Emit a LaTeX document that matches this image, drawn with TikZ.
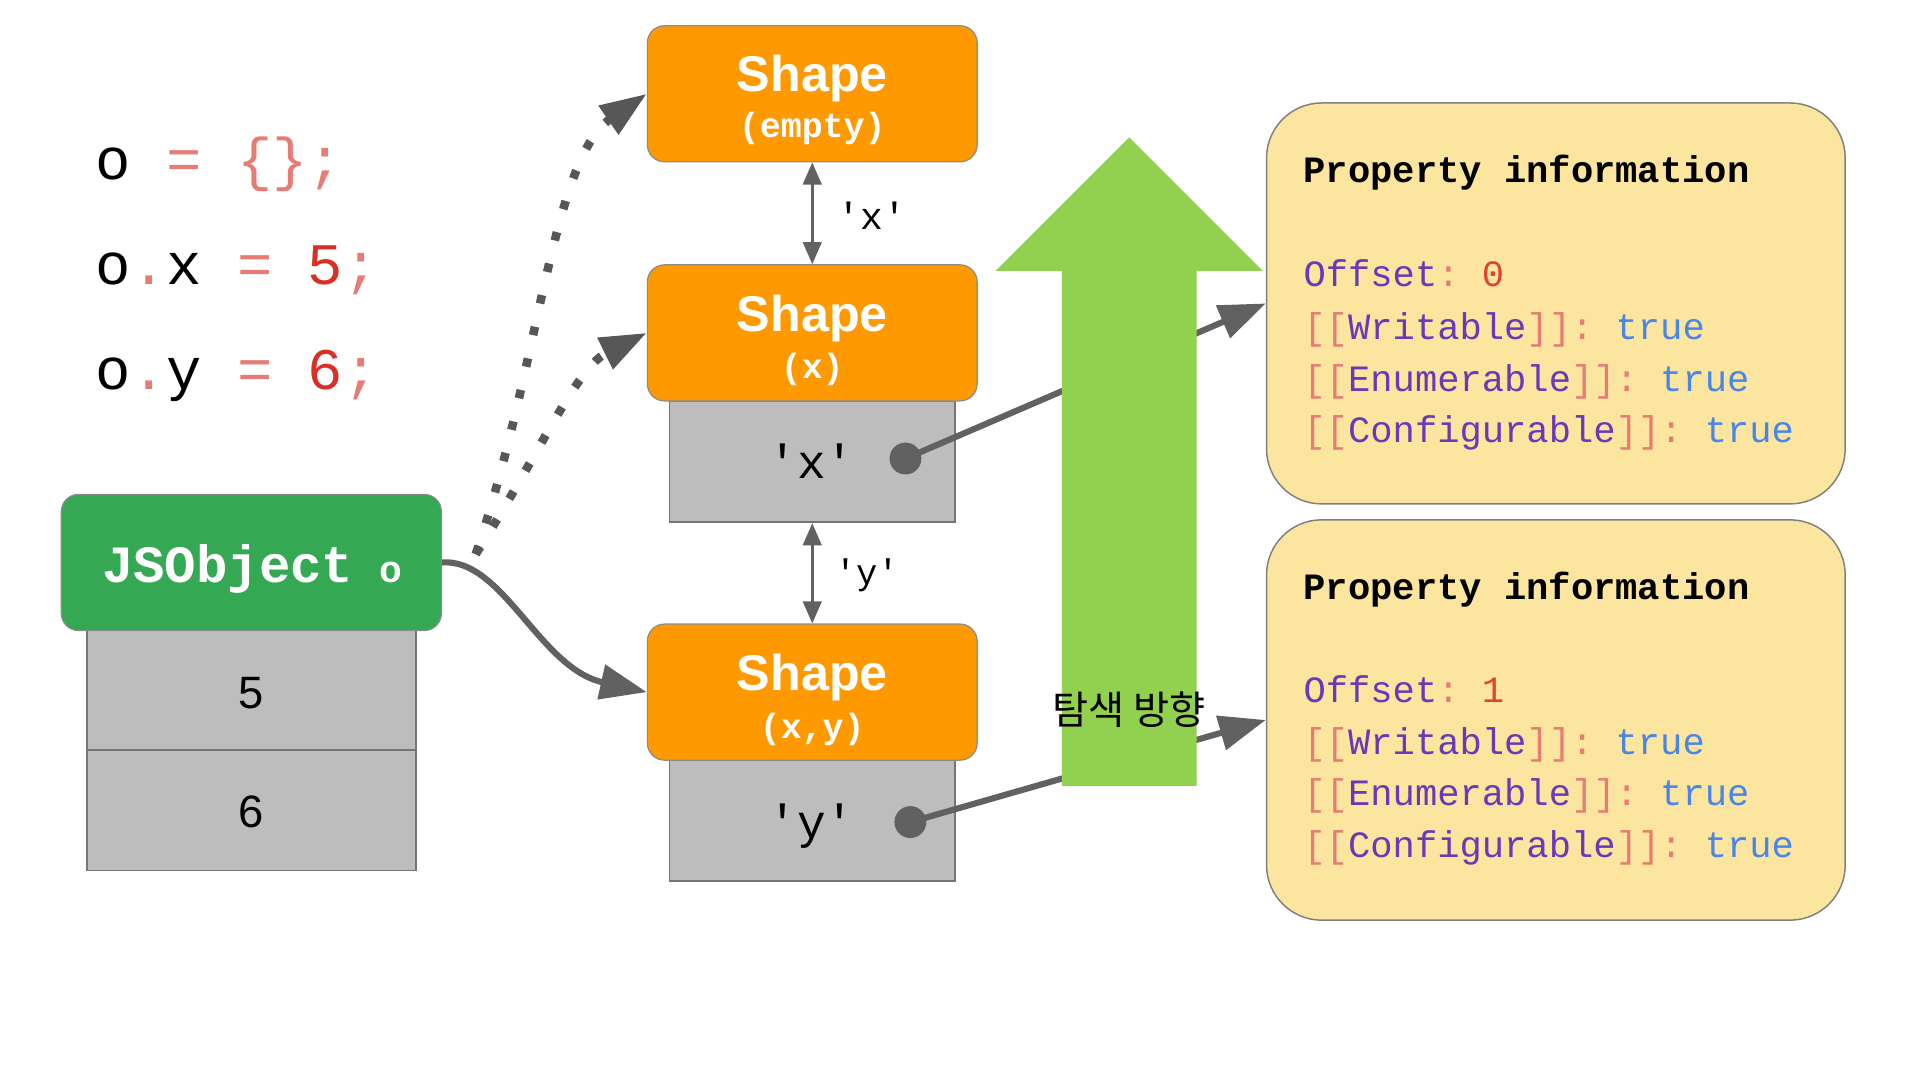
\documentclass[tikz,border=0pt]{standalone}
\usepackage{fontspec}
\setmainfont{Liberation Sans}
\setmonofont{Liberation Mono}
\newfontfamily\krfont{Noto Sans CJK KR}
\usetikzlibrary{arrows.meta}
\definecolor{shapeor}{HTML}{FF9900}
\definecolor{jsgreen}{HTML}{34A853}
\definecolor{boxgray}{HTML}{BDBDBD}
\definecolor{edgegray}{HTML}{757575}
\definecolor{pyellow}{HTML}{FCE59F}
\definecolor{arrgreen}{HTML}{92D050}
\definecolor{conngray}{HTML}{616161}
\definecolor{sal}{HTML}{E67C73}
\definecolor{pur}{HTML}{673AB7}
\definecolor{redv}{HTML}{DB4437}
\definecolor{blu}{HTML}{4A86E8}
\definecolor{codered}{HTML}{D93025}
\newcommand{\fsz}[1]{\fontsize{#1}{#1}\selectfont}
\tikzset{
  shapebox/.style={draw=black!45, line width=1pt, fill=shapeor, rounded corners=14pt,
    minimum width=269pt, minimum height=111pt, inner sep=0pt},
  jsbox/.style={draw=black!45, line width=1pt, fill=jsgreen, rounded corners=14pt,
    minimum width=310pt, minimum height=111pt, inner sep=0pt},
  graybox/.style={draw=edgegray, line width=1.5pt, fill=boxgray, inner sep=0pt},
  propbox/.style={draw=black!50, line width=1.2pt, fill=pyellow, rounded corners=45pt,
    minimum width=472pt, minimum height=327pt, inner sep=0pt},
  txt/.style={inner sep=0pt, anchor=base},
  txtw/.style={inner sep=0pt, anchor=base west},
  shapetitle/.style={txt, text=white, font=\bfseries\fsz{41}},
  shapesub/.style={txt, text=white, font=\ttfamily\bfseries\fsz{28.5}},
  codetxt/.style={txtw, font=\ttfamily\fsz{48}},
  proptxt/.style={txtw, font=\ttfamily\fsz{30.3}},
  conn/.style={draw=conngray, line width=5pt, -{Triangle[length=38pt,width=28pt]}},
  dotconn/.style={draw=conngray!90!black, line width=7pt, dash pattern=on 7pt off 19.4pt,
    -{Triangle[length=38pt,width=27pt]}},
  dbl/.style={draw=conngray, line width=2.5pt, {Triangle[length=18pt,width=15pt]}-{Triangle[length=18pt,width=15pt]}},
  dotnode/.style={circle, fill=conngray, minimum size=26pt, inner sep=0pt}
}
\begin{document}
\begin{tikzpicture}[x=1pt,y=-1pt]
\useasboundingbox[fill=white] (0,0) rectangle (1566,880.875);

% code
\node[codetxt] (c1) at (78,146) {o \textcolor{sal}{= \{\};}};
\node[codetxt] (c2) at (78,232) {o\textcolor{sal}{.}x \textcolor{sal}{=} \textcolor{codered}{5}\textcolor{sal}{;}};
\node[codetxt] (c3) at (78,318) {o\textcolor{sal}{.}y \textcolor{sal}{=} \textcolor{codered}{6}\textcolor{sal}{;}};

% JSObject
\node[graybox, minimum width=268pt, minimum height=98pt] (v5) at (205,563.25) {};
\node[graybox, minimum width=268pt, minimum height=98pt] (v6) at (205,661) {};
\node[txt, font=\fsz{37}] (t5) at (205,577.7) {5};
\node[txt, font=\fsz{37}] (t6) at (205,674.6) {6};
\node[jsbox] (js) at (205,458.75) {};
\node[txtw, text=white, font=\ttfamily\bfseries\fsz{42.7}] (jst) at (83,475) {JSObject};
\node[txtw, text=white, font=\ttfamily\bfseries\fsz{31}] (jso) at (309,475) {o};

% shapes
\node[graybox, minimum width=233pt, minimum height=99pt] (gx) at (662.5,376.5) {};
\node[graybox, minimum width=233pt, minimum height=99pt] (gy) at (662.5,669) {};
\node[shapebox] (se) at (662.5,76.5) {};
\node[shapebox] (sx) at (662.5,271.5) {};
\node[shapebox] (sxy) at (662.5,564.5) {};
\node[shapetitle] (set) at (662.5,74.5) {Shape};
\node[shapesub] (ses) at (662.5,112) {(empty)};
\node[shapetitle] (sxt) at (662.5,270) {Shape};
\node[shapesub] (sxs) at (662.5,309) {(x)};
\node[shapetitle] (sxyt) at (662.5,563.5) {Shape};
\node[shapesub] (sxys) at (662.5,602) {(x,y)};
\node[txt, font=\ttfamily\fsz{39}] (gxt) at (662,390.6) {'x'};
\node[txt, font=\ttfamily\fsz{39}] (gyt) at (662,683.6) {'y'};
\node[dotnode] (dx) at (738.5,374) {};
\node[dotnode] (dy) at (742.5,670.5) {};

% transitions
\draw[dbl] (se.south) -- (sx.north);
\draw[dbl] (gx.south) -- (sxy.north);
\node[txt, font=\ttfamily\fsz{31}] (lx) at (711,187) {'x'};
\node[txt, font=\ttfamily\fsz{29}] (ly) at (707,476.5) {'y'};

% property boxes
\node[propbox] (pi1) at (1269,247.5) {};
\node[propbox, minimum height=326.5pt] (pi2) at (1269,587.25) {};
\node[proptxt, font=\ttfamily\bfseries\fsz{30.3}] (p1t) at (1063,149) {Property information};
\node[proptxt] (p1a) at (1063,234) {\textcolor{pur}{Offset}\textcolor{sal}{:} \textcolor{redv}{0}};
\node[proptxt] (p1b) at (1063,277) {\textcolor{sal}{[[}\textcolor{pur}{Writable}\textcolor{sal}{]]:} \textcolor{blu}{true}};
\node[proptxt] (p1c) at (1063,319) {\textcolor{sal}{[[}\textcolor{pur}{Enumerable}\textcolor{sal}{]]:} \textcolor{blu}{true}};
\node[proptxt] (p1d) at (1063,361) {\textcolor{sal}{[[}\textcolor{pur}{Configurable}\textcolor{sal}{]]:} \textcolor{blu}{true}};
\node[proptxt, font=\ttfamily\bfseries\fsz{30.3}] (p2t) at (1063,489) {Property information};
\node[proptxt] (p2a) at (1063,573) {\textcolor{pur}{Offset}\textcolor{sal}{:} \textcolor{redv}{1}};
\node[proptxt] (p2b) at (1063,615) {\textcolor{sal}{[[}\textcolor{pur}{Writable}\textcolor{sal}{]]:} \textcolor{blu}{true}};
\node[proptxt] (p2c) at (1063,657) {\textcolor{sal}{[[}\textcolor{pur}{Enumerable}\textcolor{sal}{]]:} \textcolor{blu}{true}};
\node[proptxt] (p2d) at (1063,699) {\textcolor{sal}{[[}\textcolor{pur}{Configurable}\textcolor{sal}{]]:} \textcolor{blu}{true}};

% connectors
\coordinate (ds) at (388,452);
\draw[dotconn] (ds) .. controls (440,300) and (450,130) .. (se.west);
\draw[dotconn] (ds) .. controls (440,370) and (470,300) .. (sx.west);
\draw[conn] (js.east) .. controls (410,455) and (440,545) .. (sxy.west);
\draw[conn] (dx.center) -- (pi1.west);
\draw[conn] (dy.center) -- (pi2.west);

% search direction arrow
\fill[arrgreen] (866,641) -- (866,221) -- (812,221) -- (921,112) -- (1030,221)
  -- (976,221) -- (976,641) -- cycle;
\node[txt, font=\krfont\fsz{32}] (dir) at (921,591) {탐색 방향};
\end{tikzpicture}
\end{document}
